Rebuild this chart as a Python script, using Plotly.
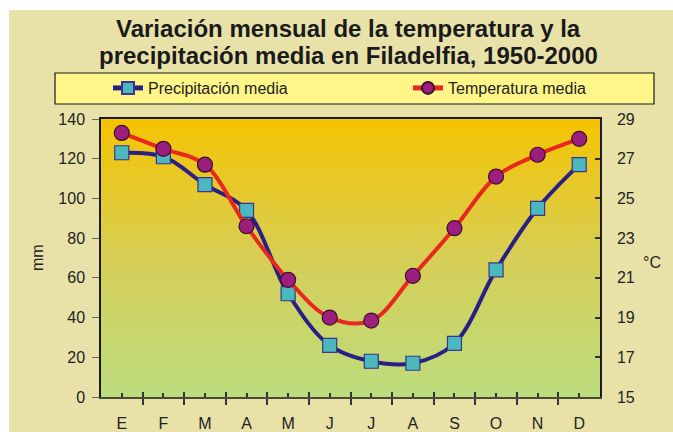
import plotly.graph_objects as go

months = ["E", "F", "M", "A", "M", "J", "J", "A", "S", "O", "N", "D"]
precip_mm = [123, 121, 107, 94, 52, 26, 18, 17, 27, 64, 95, 117]
temp_c = [28.3, 27.5, 26.7, 23.6, 20.9, 19.0, 18.85, 21.1, 23.5, 26.1, 27.2, 28.0]
mm_ticks = [0, 20, 40, 60, 80, 100, 120, 140]
c_ticks = [15, 17, 19, 21, 23, 25, 27, 29]

title_lines = ["Variación mensual de la temperatura y la",
               "precipitación media en Filadelfia, 1950-2000"]

W, H = 673, 432
ML, MR, MT, MB = 101, 73, 119, 35
PW, PH = W - ML - MR, H - MT - MB

def px_x(p):
    return (p - ML) / PW

def px_y(p):
    return (H - MB - p) / PH

FONT = "Liberation Sans, Arial, Helvetica, sans-serif"
xs = list(range(len(months)))

fig = go.Figure()
fig.add_trace(go.Scatter(
    x=xs, y=precip_mm, name="Precipitación media", mode="lines+markers",
    line=dict(color="#2a1f85", width=4, shape="spline", smoothing=1),
    marker=dict(symbol="square", size=14, color="#4bb8bd", line=dict(color="#3a3590", width=1.2)),
    yaxis="y", xaxis="x", legend="legend",
))
fig.add_trace(go.Scatter(
    x=xs, y=temp_c, name="Temperatura media", mode="lines+markers",
    line=dict(color="#e8281e", width=4, shape="spline", smoothing=1),
    marker=dict(symbol="circle", size=15, color="#9c1f80", line=dict(color="#3a1030", width=1.2)),
    yaxis="y2", xaxis="x", legend="legend2",
))

shapes = []
shapes.append(dict(type="rect", xref="paper", yref="paper", layer="below",
                   x0=px_x(9), x1=px_x(W + 5), y0=px_y(H + 5), y1=px_y(10),
                   fillcolor="#e8e2a9", line=dict(width=0)))
stops = [(0.0, (188, 221, 126)), (0.5, (214, 206, 86)), (1.0, (245, 196, 0))]
N = 70
def interp(t):
    for i in range(len(stops) - 1):
        t0, c0 = stops[i]
        t1, c1 = stops[i + 1]
        if t0 <= t <= t1:
            f = (t - t0) / (t1 - t0)
            return tuple(round(c0[k] + (c1[k] - c0[k]) * f) for k in range(3))
    return stops[-1][1]
for i in range(N):
    t = (i + 0.5) / N
    r, g, b = interp(t)
    shapes.append(dict(type="rect", xref="paper", yref="paper", layer="below",
                       x0=0, x1=1, y0=i / N, y1=(i + 1) / N + 0.002,
                       fillcolor=f"rgb({r},{g},{b})", line=dict(width=0)))
shapes.append(dict(type="rect", xref="paper", yref="paper", layer="below",
                   x0=px_x(55), x1=px_x(654), y0=px_y(104), y1=px_y(73),
                   fillcolor="#fff68a", line=dict(color="#1a1a1a", width=1.2)))

annotations = [
    dict(text="mm", xref="paper", yref="paper", x=px_x(37), y=px_y(258), showarrow=False,
         xanchor="center", yanchor="middle",
         textangle=-90, font=dict(family=FONT, size=16, color="#222")),
    dict(text="°C", xref="paper", yref="paper", x=px_x(652), y=px_y(262), showarrow=False,
         xanchor="center", yanchor="middle",
         font=dict(family=FONT, size=16, color="#222")),
]
for line_text, cy in zip(title_lines, [28, 55]):
    annotations.append(dict(text=f"<b>{line_text}</b>", xref="paper", yref="paper",
                            x=px_x(348), y=px_y(cy), xanchor="center", yanchor="middle",
                            showarrow=False,
                            font=dict(family=FONT, size=24, color="#1a1a1a")))

leg_common = dict(orientation="v", xanchor="left", yanchor="top",
                  bgcolor="rgba(0,0,0,0)", borderwidth=0,
                  font=dict(family=FONT, size=16, color="#222"), itemsizing="constant")

fig.update_layout(
    width=W, height=H,
    margin=dict(l=ML, r=MR, t=MT, b=MB, autoexpand=False),
    paper_bgcolor="white",
    plot_bgcolor="rgba(0,0,0,0)",
    font=dict(family=FONT, size=16, color="#222"),
    showlegend=True,
    legend=dict(x=px_x(108), y=px_y(71), **leg_common),
    legend2=dict(x=px_x(408), y=px_y(71), **leg_common),
    shapes=shapes,
    annotations=annotations,
    xaxis=dict(range=[-0.5, 11.5], tickmode="array", tickvals=xs, ticktext=months,
               ticks="inside", ticklen=4, tickwidth=2, tickcolor="#333",
               showline=True, linecolor="#4a4a3a", linewidth=2, mirror=False,
               showgrid=False, zeroline=False, ticklabelstandoff=11,
               minor=dict(tickmode="linear", tick0=-0.5, dtick=1, ticks="outside",
                          ticklen=6, tickwidth=2, tickcolor="#333", showgrid=False),
               tickfont=dict(family=FONT, size=16, color="#222")),
    xaxis2=dict(range=[-0.5, 11.5], overlaying="x", side="top", showline=True,
                linecolor="#1a1a1a", linewidth=1.5, ticks="", showticklabels=False,
                showgrid=False, zeroline=False),
    xaxis3=dict(range=[-0.5, 11.5], overlaying="x", side="bottom", tickmode="linear",
                tick0=-0.5, dtick=1, ticks="inside", ticklen=5, tickwidth=2, tickcolor="#333",
                showticklabels=False, showgrid=False, zeroline=False, showline=False),
    yaxis=dict(range=[0, 140], tickmode="array", tickvals=mm_ticks, ticks="outside",
               ticklen=7, tickwidth=1, tickcolor="#666", showline=True, linecolor="#1a1a1a",
               linewidth=1.5, showgrid=False, zeroline=False, ticklabelstandoff=4,
               tickfont=dict(family=FONT, size=16, color="#222")),
    yaxis2=dict(range=[15, 29], tickmode="array", tickvals=c_ticks, overlaying="y", side="right",
                ticks="inside", ticklen=5, tickwidth=2, tickcolor="#333", showline=True,
                linecolor="#1a1a1a", linewidth=1.5, showgrid=False, zeroline=False,
                ticklabelstandoff=12, tickfont=dict(family=FONT, size=16, color="#222")),
)
fig.add_trace(go.Scatter(x=[None], y=[None], xaxis="x2", yaxis="y", showlegend=False, hoverinfo="skip"))
fig.add_trace(go.Scatter(x=[None], y=[None], xaxis="x3", yaxis="y", showlegend=False, hoverinfo="skip"))

fig.write_html("out.html", config={"displayModeBar": False},
               post_script="document.body.style.margin='0px';document.body.style.padding='0px';")
